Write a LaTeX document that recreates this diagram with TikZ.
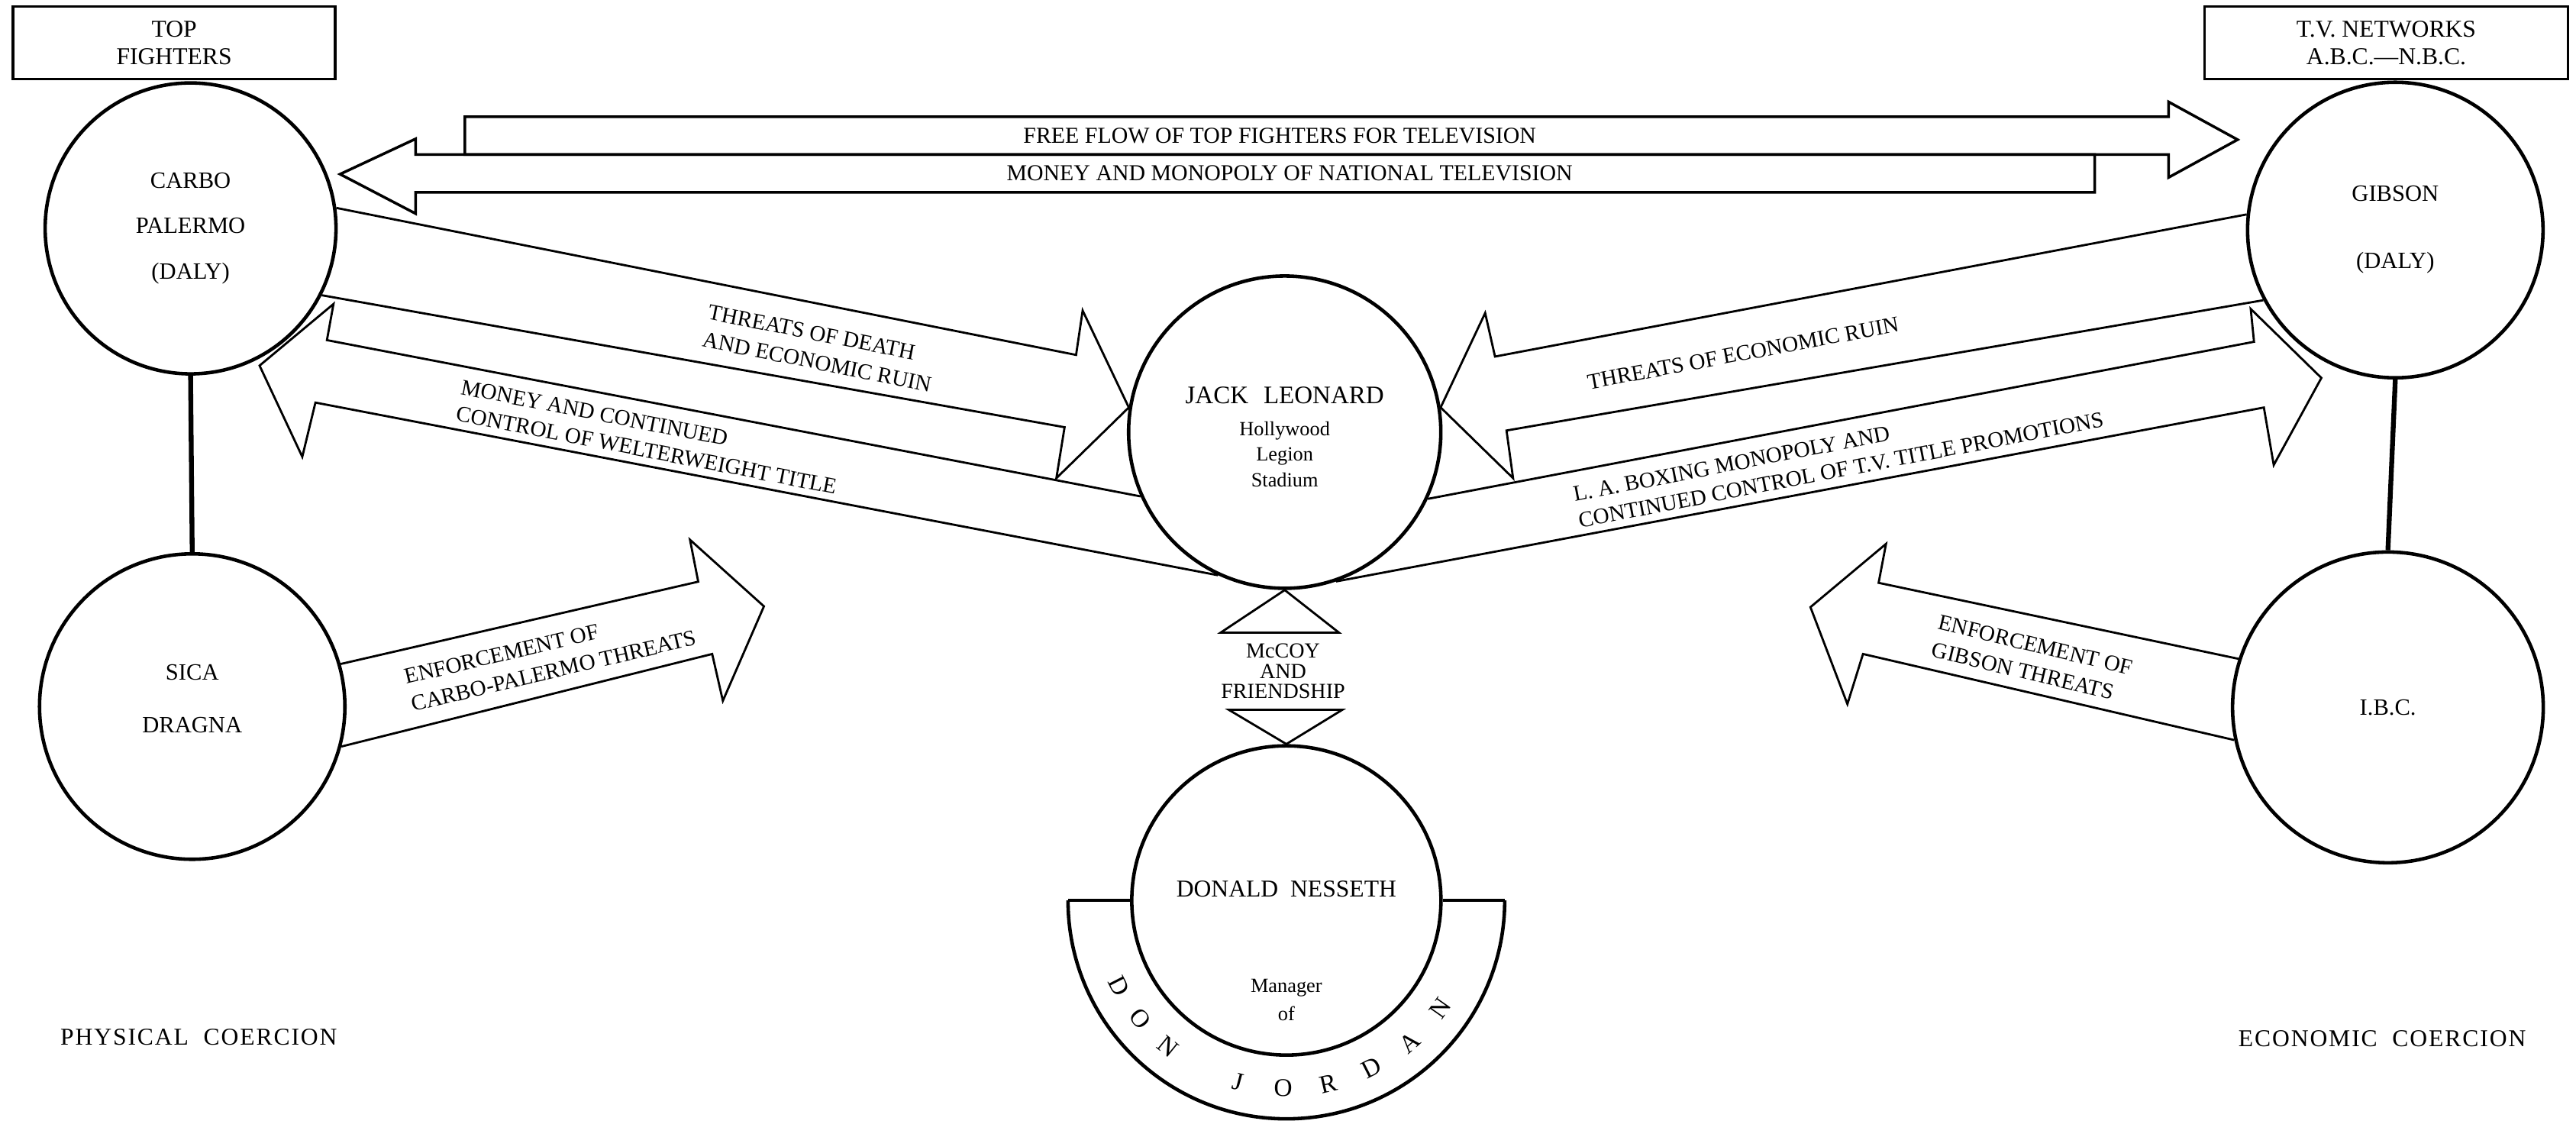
\documentclass[tikz,border=0pt]{standalone}
\usepackage{fontspec}
\setmainfont{Liberation Serif}
\usetikzlibrary{calc}

\tikzset{
  person/.style={circle, draw, line width=1.3pt, inner sep=0pt, align=center,
    font=\fontsize{8.7}{10}\selectfont},
  titlebox/.style={rectangle, draw, line width=1pt, minimum height=9.5mm,
    inner sep=0pt, align=center, font=\fontsize{9}{10.2}\selectfont},
  blockarrow/.style={draw, line width=0.8pt, line join=miter},
  toptext/.style={inner sep=0pt, font=\fontsize{8.5}{9.5}\selectfont},
  flowtext/.style={inner sep=0pt, align=left, font=\fontsize{8.3}{10}\selectfont},
  tietext/.style={inner sep=0pt, align=center, font=\fontsize{8}{9}\selectfont},
  tie/.style={line width=1.8pt},
  ringletter/.style={inner sep=0pt, font=\fontsize{9.5}{10}\selectfont},
  sidetext/.style={inner sep=0pt,
    font=\fontsize{9}{10}\selectfont\addfontfeature{LetterSpace=6}},
}

\begin{document}
\begin{tikzpicture}[x=0.2152mm, y=-0.2152mm]
  \useasboundingbox (0,0) rectangle (1568,682);

  % --- STEP 1: THE PEOPLE AND THE TWO BOXES ---

  % A. Circles on the left (physical side)
  \node[person, minimum size=38.1mm] (carbo) at (116,139) {CARBO\\[7pt]PALERMO\\[7pt](DALY)};
  \node[person, minimum size=40mm] (sica) at (117,430) {SICA\\[9.5pt]DRAGNA\\[-4pt]};

  % B. Circles on the right (economic side)
  \node[person, minimum size=38.7mm] (gibson) at (1458,140) {GIBSON\\[15pt](DALY)\\[-8pt]};
  \node[person, minimum size=40.7mm] (ibc) at (1453.5,430.5) {I.B.C.};

  % C. The two circles in the middle
  \node[person, minimum size=40.9mm] (jack) at (782,263) {};
  \node[person, minimum size=40.5mm] (donald) at (783,548) {};

  % D. Boxes on top
  \node[titlebox, minimum width=42.2mm] (topfighters) at (106,26) {TOP\\FIGHTERS};
  \node[titlebox, minimum width=47.6mm] (tvnet) at (1452.5,26) {T.V.\ NETWORKS\\A.B.C.---N.B.C.};

  % E. Vertical ties between the circles
  \draw[tie] (carbo.south) -- (sica.north);
  \draw[tie] (gibson.south) -- (ibc.north);

  % --- STEP 2: THE TELEVISION ARROWS ON TOP ---

  \draw[blockarrow, line width=1pt] (283,94) -- (283,71) -- (1320,71) -- (1320,62)
    -- (1362,85) -- (1320,108) -- (1320,94) -- cycle;
  \draw[blockarrow, line width=1pt] (1275,94) -- (1275,117) -- (253,117) -- (253,130)
    -- (207,106) -- (253,84.5) -- (253,94) -- cycle;
  \node[toptext] (freeflow) at (779,82.5) {FREE FLOW OF TOP FIGHTERS FOR TELEVISION};
  \node[toptext] (tvmoney) at (785,105.5) {MONEY AND MONOPOLY OF NATIONAL TELEVISION};

  % --- STEP 3: ARROWS BETWEEN CARBO AND JACK ---

  \draw[blockarrow] (carbo.8.7) -- (655,216) -- (659,189) -- (jack.171)
    -- (643,291) -- (648,260) -- (carbo.-27.7);
  \draw[blockarrow] (jack.204.2) -- (199,207) -- (203,185) -- (158,222.5)
    -- (184,278) -- (192,245) -- (jack.245.3);
  \node[flowtext, rotate=-11.3] (deaththreat) at (499,212) {THREATS OF DEATH\\[0.5pt]AND ECONOMIC RUIN};
  \node[flowtext, rotate=-11] (titlemoney) at (395,266) {MONEY AND CONTINUED\\CONTROL OF WELTERWEIGHT TITLE};

  % --- STEP 4: ARROWS BETWEEN GIBSON AND JACK ---

  \draw[blockarrow] (gibson.174.7) -- (910,217) -- (904,190.5) -- (jack.9)
    -- (921,291) -- (917,262) -- (gibson.208.2);
  \draw[blockarrow] (jack.-25.8) -- (1372,208) -- (1370,188) -- (1413,230)
    -- (1384,283) -- (1378,248) -- (jack.-71.6);
  \node[flowtext, rotate=10.6] (ruinthreat) at (1061,215) {THREATS OF ECONOMIC RUIN};
  \node[flowtext, rotate=11] (laboxing) at (1119,278) {L. A. BOXING MONOPOLY AND\\CONTINUED CONTROL OF T.V. TITLE PROMOTIONS};

  % --- STEP 5: THE ENFORCEMENT ARROWS ---

  \draw[blockarrow] (sica.16.7) -- (425,354) -- (420,328.5) -- (465,369)
    -- (440,426.5) -- (433.5,398) -- (sica.-15.2);
  \draw[blockarrow] (ibc.162.8) -- (1143.5,354.7) -- (1148,331) -- (1102,369.5)
    -- (1124.5,428.5) -- (1134,398) -- (ibc.192.7);
  \node[flowtext, rotate=13.3] (carboforce) at (335,400) {ENFORCEMENT OF\\[0.5pt]CARBO-PALERMO THREATS};
  \node[flowtext, rotate=-13.5] (gibsonforce) at (1237,401) {ENFORCEMENT OF\\[0.5pt]GIBSON THREATS};

  % --- STEP 6: JACK, McCOY AND DONALD ---

  % A. Texts in the middle circles
  \node[inner sep=0pt, font=\fontsize{9.4}{11}\selectfont] (jackname) at (782,240.5) {JACK\hspace{0.6em}LEONARD};
  \node[inner sep=0pt, align=center, font=\fontsize{7.5}{9.4}\selectfont] (jackvenue) at (782,276.5) {Hollywood\\Legion\\Stadium};
  \node[inner sep=0pt, font=\fontsize{9}{10}\selectfont] (donaldname) at (783,541) {DONALD\hspace{0.5em}NESSETH};
  \node[inner sep=0pt, align=center, font=\fontsize{7.5}{10.4}\selectfont] (donaldrole) at (783,608.5) {Manager\\of};

  % B. The two triangles and the friendship text
  \draw[blockarrow] (jack.south) -- (815,385) -- (743,385) -- cycle;
  \draw[blockarrow] (748,432) -- (817,432) -- (donald.north) -- cycle;
  \node[tietext] (mccoy) at (781,408.5) {McCOY\\[-1.5pt]AND\\[-1.5pt]FRIENDSHIP};

  % C. The half ring under Donald, with the fighter's name
  \coordinate (ringleft) at (650,548);
  \coordinate (ringright) at (916,548);
  \begin{scope}
    \clip (600,548) rectangle (960,690);
    \draw[line width=1.3pt] (donald.center) circle[radius=28.6mm];
  \end{scope}
  \draw[line width=1.3pt] (ringleft) -- (donald.west);
  \draw[line width=1.3pt] (donald.east) -- (ringright);
  \foreach \ch/\ang [count=\i] in {D/207, O/219, N/231, J/255, O/269, R/283, D/297, A/311, N/325}
    \node[ringletter, rotate=\ang+90] (jordan\i) at ($(donald.center)+(\ang:24.6mm)$) {\ch};

  % --- STEP 7: THE TWO SIDE LABELS ---
  \node[sidetext] (physical) at (121,631) {PHYSICAL~~COERCION};
  \node[sidetext] (economic) at (1450,632) {ECONOMIC~~COERCION};
\end{tikzpicture}
\end{document}
